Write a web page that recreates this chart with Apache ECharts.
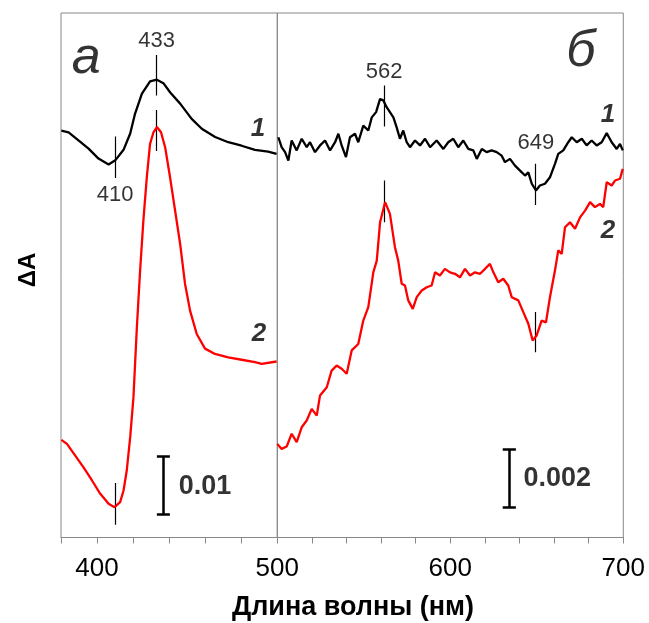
<!DOCTYPE html>
<html lang="ru">
<head>
<meta charset="UTF-8">
<title>ΔA spectra</title>
<script src="https://cdn.jsdelivr.net/npm/echarts@6/dist/echarts.min.js"></script>
<style>
  html, body { margin: 0; padding: 0; background: #fff; }
  #main { width: 649px; height: 623px; }
</style>
</head>
<body>
<div id="main"></div>
<script type="text/javascript">
// ΔA values are in units of 0.001 (left panel bar = 10, right panel bar = 2)
// панель а, кривая 1
var wlA1 = [380.2, 384.2, 389.7, 395.3, 400.8, 406.4, 410.1, 414.7, 418.4, 421.1, 424.9, 429.4, 433.2, 436.8, 440.6, 446.1, 452.5, 458.1, 465.5, 472.8, 480.2, 487.6, 494.9, 499.6];
var dA1 = [69.6, 69.3, 67.9, 66.5, 64.8, 63.8, 64.5, 66.3, 69.1, 72.5, 75.9, 78.0, 78.3, 77.7, 76.1, 74.2, 71.6, 69.9, 68.5, 67.6, 67.0, 66.3, 66.0, 65.6];
// панель а, кривая 2
var wlA2 = [380.2, 383.3, 387.9, 392.5, 397.2, 401.8, 406.4, 409.7, 412.8, 414.7, 416.5, 418.4, 420.2, 422.1, 423.9, 425.7, 427.6, 429.4, 431.3, 433.2, 435.5, 437.8, 440.5, 443.3, 446.1, 448.8, 451.6, 455.3, 459.9, 465.4, 472.8, 480.2, 487.6, 491.3, 499.6];
var dA2 = [16.7, 16.0, 14.0, 12.0, 9.75, 7.47, 5.76, 5.18, 6.04, 8.04, 11.5, 17.2, 24.0, 36.0, 45.7, 54.2, 61.6, 67.3, 69.3, 70.2, 69.3, 66.7, 61.6, 55.9, 50.2, 43.4, 38.8, 34.8, 32.3, 31.4, 30.8, 30.4, 30.0, 29.7, 30.1];
// панель б, кривая 1
var wlB1 = [500.6, 502.5, 504.5, 506.4, 508.3, 511.2, 514.1, 517.0, 518.9, 521.8, 524.7, 527.6, 530.5, 533.4, 535.3, 537.2, 539.7, 542.0, 544.9, 546.8, 549.7, 552.6, 554.6, 557.1, 559.4, 561.3, 563.2, 565.1, 567.1, 569.0, 570.9, 572.8, 574.8, 576.7, 579.6, 582.5, 585.4, 588.3, 592.1, 596.0, 598.8,
            601.7, 604.6, 607.5, 610.4, 613.3, 615.3, 618.2, 621.0, 623.9, 626.8, 629.7, 631.6, 634.5, 637.4, 640.3, 643.2, 645.1, 647.1, 649.5, 651.8, 654.7, 657.6, 660.5, 662.4, 665.3, 668.2, 670.2, 673.1, 676.0, 678.8, 681.7, 684.6, 687.5, 690.4, 693.3, 696.2, 698.1, 699.7];
var dB1 = [13.69, 13.35, 13.18, 12.89, 13.58, 13.24, 13.64, 13.35, 13.52, 13.18, 13.41, 13.58, 13.24, 13.52, 13.81, 13.41, 13.01, 13.69, 13.81, 13.52, 14.09, 13.92, 14.37, 14.55, 15.00, 14.95, 14.72, 14.55, 14.37, 14.03, 13.64, 13.92, 13.52, 13.35, 13.58, 13.41, 13.64, 13.35, 13.58, 13.29, 13.52,
           13.64, 13.35, 13.58, 13.29, 13.24, 12.95, 13.29, 13.18, 13.24, 13.18, 13.06, 12.84, 12.95, 12.72, 12.55, 12.38, 12.49, 12.10, 11.87, 12.04, 12.10, 12.32, 12.78, 13.12, 13.24, 13.52, 13.69, 13.52, 13.64, 13.41, 13.58, 13.41, 13.52, 13.83, 13.52, 13.29, 13.46, 13.24];
// панель б, кривая 2
var wlB2 = [500.0, 502.5, 505.4, 508.3, 511.2, 514.1, 517.0, 519.9, 522.8, 524.7, 528.6, 531.4, 534.3, 537.2, 540.1, 543.0, 546.8, 549.7, 552.6, 555.5, 557.5, 559.4, 562.3, 565.1, 568.0, 569.9, 571.9, 573.8, 575.7, 578.3, 580.6, 583.5, 586.4, 589.2, 591.2, 594.0, 596.9, 599.8,
            602.7, 605.6, 608.5, 611.4, 614.3, 617.2, 620.1, 622.9, 624.9, 627.7, 630.6, 633.5, 635.5, 639.3, 642.2, 645.1, 647.6, 649.9, 652.8, 655.3, 657.6, 660.5, 662.4, 664.4, 666.3, 669.2, 672.1, 675.0, 677.9, 680.8, 683.6, 686.5, 688.4, 690.4, 693.3, 695.2, 698.1, 699.7];
var dB2 = [3.20, 3.03, 3.11, 3.55, 3.26, 3.77, 4.00, 4.40, 4.17, 4.86, 5.14, 5.71, 5.88, 5.77, 5.60, 6.40, 6.62, 7.42, 7.88, 9.07, 9.47, 10.78, 11.47, 11.07, 9.93, 9.47, 8.68, 8.62, 8.11, 7.82, 8.22, 8.45, 8.56, 8.62, 9.07, 8.96, 9.19, 9.07,
           9.02, 8.90, 9.19, 8.96, 9.07, 9.02, 9.19, 9.36, 9.07, 8.73, 8.85, 8.62, 8.22, 8.11, 7.71, 7.31, 6.74, 6.91, 7.42, 7.36, 8.22, 9.13, 9.82, 9.70, 10.61, 10.78, 10.56, 10.95, 11.18, 11.47, 11.30, 11.41, 11.30, 12.15, 12.04, 12.21, 12.27, 12.61];

// короткие вертикальные отметки пиков [нм, верх, низ]
var marksA = [[433, 82.5, 75.6], [433, 73.1, 66.1], [410, 68.6, 61.5], [410, 9.3, 2.2]];
var marksB = [[562, 15.46, 14.06], [562, 12.21, 10.78], [649, 12.78, 11.37], [649, 7.71, 6.34]];

var peakA = [['433', 433, 85.0], ['410', 410, 58.5]];
var peakB = [['562', 561.7, 15.94], ['649', 649.5, 13.51]];
var curveA = [['1', 489.3, 69.9], ['2', 489.8, 34.9]];
var curveB = [['1', 691.2, 14.47], ['2', 691.2, 10.5]];

var FONT = 'Liberation Sans, Arial, sans-serif';

function pts(x, y) {
    var out = [];
    for (var i = 0; i < x.length; i++) out.push([x[i], y[i]]);
    return out;
}

function segs(marks) {
    return marks.map(function (m) { return { coords: [[m[0], m[1]], [m[0], m[2]]] }; });
}

// шкала: вертикальный отрезок с засечками
function bar(x, y0, y1, cap) {
    return [
        { coords: [[x, y0], [x, y1]] },
        { coords: [[x - cap, y0], [x + cap, y0]] },
        { coords: [[x - cap, y1], [x + cap, y1]] }
    ];
}

function notes(list, idx, style) {
    return {
        type: 'scatter', xAxisIndex: idx, yAxisIndex: idx,
        symbolSize: 1, itemStyle: { color: 'rgba(0,0,0,0)' }, silent: true,
        label: Object.assign({ show: true, position: 'inside', color: '#000', fontFamily: FONT,
            formatter: function (p) { return p.name; } }, style),
        data: list.map(function (n) { return { name: n[0], value: [n[1], n[2]] }; })
    };
}

function line(data, idx, color) {
    return {
        type: 'line', xAxisIndex: idx, yAxisIndex: idx, data: data,
        showSymbol: false, silent: true, animation: false,
        lineStyle: { color: color, width: 2.3 }
    };
}

function xAx(idx, min, max, hideMin) {
    return {
        type: 'value', gridIndex: idx, min: min, max: max, interval: 20,
        axisLine: { lineStyle: { color: '#888', width: 1 } },
        axisTick: { show: true, inside: false, length: 6, lineStyle: { color: '#888' } },
        splitLine: { show: false },
        axisLabel: {
            color: '#000', fontSize: 26, fontFamily: FONT, margin: 18,
            showMinLabel: !hideMin, showMaxLabel: true,
            formatter: function (v) { return v % 100 === 0 ? String(v) : ''; }
        }
    };
}

var myChart = echarts.init(document.getElementById('main'));

var option = {
    animation: false,
    backgroundColor: '#fff',
    grid: [
        { left: 61, top: 13, width: 216.3, height: 524.5, show: true, borderColor: '#888', borderWidth: 1, backgroundColor: 'transparent' },
        { left: 277.3, top: 13, width: 346, height: 524.5, show: true, borderColor: '#888', borderWidth: 1, backgroundColor: 'transparent' }
    ],
    xAxis: [xAx(0, 380, 500, false), xAx(1, 500, 700, true)],
    yAxis: [
        { type: 'value', gridIndex: 0, min: 0, max: 89.7, show: false },
        { type: 'value', gridIndex: 1, min: 0, max: 17.94, show: false }
    ],
    graphic: [
        { type: 'text', position: [353, 608], style: { text: 'Длина волны (нм)', fill: '#000',
            font: 'bold 27px ' + FONT, align: 'center', verticalAlign: 'middle' } },
        { type: 'text', position: [28, 270], rotation: Math.PI / 2, style: { text: 'ΔA', fill: '#000',
            font: 'bold 24px ' + FONT, align: 'center', verticalAlign: 'middle' } }
    ],
    series: [
        line(pts(wlA1, dA1), 0, '#000'),
        line(pts(wlA2, dA2), 0, '#ff0000'),
        line(pts(wlB1, dB1), 1, '#000'),
        line(pts(wlB2, dB2), 1, '#ff0000'),
        { type: 'lines', coordinateSystem: 'cartesian2d', xAxisIndex: 0, yAxisIndex: 0, silent: true,
          lineStyle: { color: '#000', width: 1.2, opacity: 1 }, data: segs(marksA) },
        { type: 'lines', coordinateSystem: 'cartesian2d', xAxisIndex: 1, yAxisIndex: 1, silent: true,
          lineStyle: { color: '#000', width: 1.2, opacity: 1 }, data: segs(marksB) },
        { type: 'lines', coordinateSystem: 'cartesian2d', xAxisIndex: 0, yAxisIndex: 0, silent: true,
          lineStyle: { color: '#000', width: 2.5, opacity: 1 }, data: bar(436.8, 3.9, 13.9, 3.6) },
        { type: 'lines', coordinateSystem: 'cartesian2d', xAxisIndex: 1, yAxisIndex: 1, silent: true,
          lineStyle: { color: '#000', width: 2.5, opacity: 1 }, data: bar(634.1, 1.03, 3.03, 3.8) },
        notes(peakA, 0, { fontSize: 22 }),
        notes(peakB, 1, { fontSize: 22 }),
        notes(curveA, 0, { fontSize: 26, fontWeight: 'bold', fontStyle: 'italic' }),
        notes(curveB, 1, { fontSize: 26, fontWeight: 'bold', fontStyle: 'italic' }),
        notes([['0.01', 445.0, 8.72]], 0, { fontSize: 27, fontWeight: 'bold', position: 'right', distance: 0 }),
        notes([['0.002', 642.0, 2.02]], 1, { fontSize: 27, fontWeight: 'bold', position: 'right', distance: 0 }),
        notes([['а', 394.0, 81.9]], 0, { fontSize: 52, fontStyle: 'italic' }),
        notes([['б', 675.5, 16.62]], 1, { fontSize: 52, fontStyle: 'italic' })
    ]
};

myChart.setOption(option);
</script>
</body>
</html>
